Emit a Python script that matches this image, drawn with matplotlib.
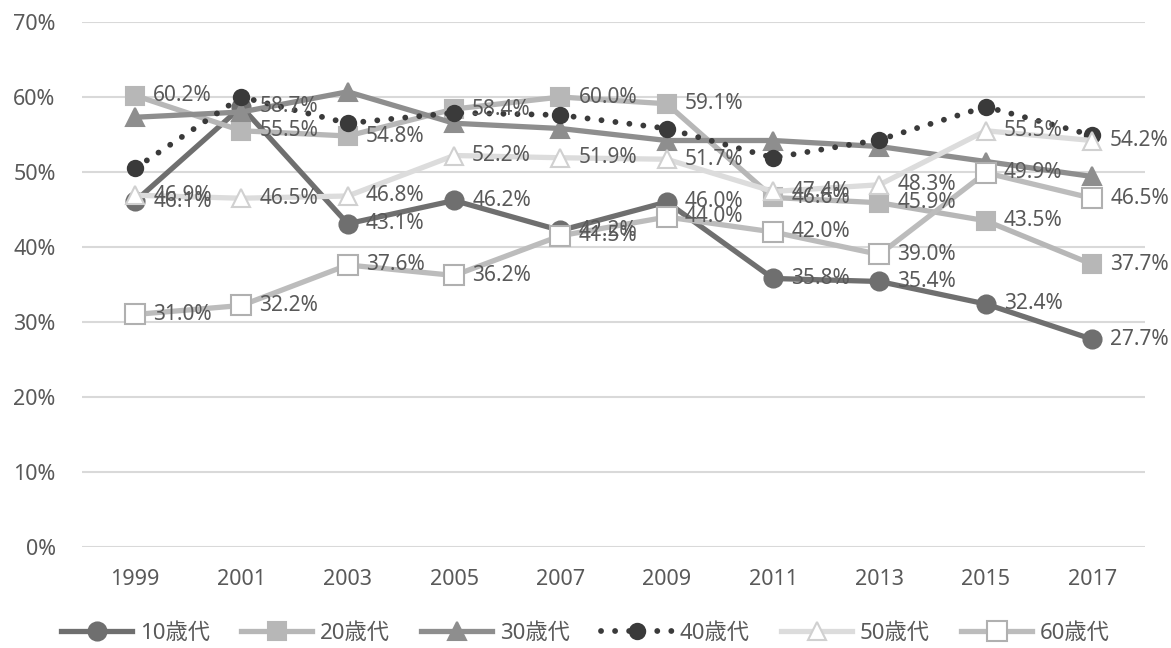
import matplotlib
matplotlib.use("Agg")
import matplotlib.pyplot as plt
from matplotlib.ticker import FuncFormatter

plt.rcParams['font.family'] = ['Noto Sans', 'Noto Sans CJK JP', 'DejaVu Sans']

years = ["1999", "2001", "2003", "2005", "2007", "2009", "2011", "2013", "2015", "2017"]
s10 = [46.1, 58.7, 43.1, 46.2, 42.2, 46.0, 35.8, 35.4, 32.4, 27.7]
s20 = [60.2, 55.5, 54.8, 58.4, 60.0, 59.1, 46.6, 45.9, 43.5, 37.7]
s30 = [57.3, 58.0, 60.7, 56.5, 55.8, 54.2, 54.2, 53.4, 51.4, 49.4]
s40 = [50.5, 60.0, 56.5, 57.9, 57.6, 55.8, 51.9, 54.3, 58.7, 54.9]
s50 = [46.9, 46.5, 46.8, 52.2, 51.9, 51.7, 47.4, 48.3, 55.5, 54.2]
s60 = [31.0, 32.2, 37.6, 36.2, 41.5, 44.0, 42.0, 39.0, 49.9, 46.5]
names = ["10歳代", "20歳代", "30歳代", "40歳代", "50歳代", "60歳代"]

fig = plt.figure(figsize=(11.71, 6.48), dpi=100)
ax = fig.add_axes([0.07, 0.156, 0.908, 0.81])
x = list(range(len(years)))

styles = [
    dict(data=s10, color="#6f6f6f", ls="-", marker="o", mfc="#6f6f6f", mec="#6f6f6f", ms=13, lw=3.8, label=True),
    dict(data=s20, color="#b7b7b7", ls="-", marker="s", mfc="#b7b7b7", mec="#b7b7b7", ms=13, lw=3.8, label=True),
    dict(data=s30, color="#8e8e8e", ls="-", marker="^", mfc="#8e8e8e", mec="#8e8e8e", ms=13, lw=3.8, label=False),
    dict(data=s40, color="#3a3a3a", ls=(0, (0.01, 2.4)), marker="o", mfc="#3a3a3a", mec="#3a3a3a", ms=11, lw=4.2, label=False),
    dict(data=s50, color="#dcdcdc", ls="-", marker="^", mfc="white", mec="#d0d0d0", ms=13, lw=3.8, label=True),
    dict(data=s60, color="#bcbcbc", ls="-", marker="s", mfc="white", mec="#b0b0b0", ms=14, lw=3.8, label=True),
]

order = [4, 5, 1, 2, 0, 3]
handles = [None] * 6
for i in order:
    st = styles[i]
    h, = ax.plot(x, st["data"], color=st["color"], ls=st["ls"], lw=st["lw"],
                 marker=st["marker"], markerfacecolor=st["mfc"], markeredgecolor=st["mec"],
                 markeredgewidth=1.5, markersize=st["ms"], label=names[i],
                 dash_capstyle="round", zorder=3 + i)
    handles[i] = h
    if st["label"]:
        for xi, v in zip(x, st["data"]):
            ax.annotate(f"{v:.1f}%", (xi, v), xytext=(13, 0), textcoords="offset points",
                        ha="left", va="center", fontsize=15, color="#595959", zorder=20)

ax.set_xlim(-0.5, len(years) - 0.5)
ax.set_ylim(0, 70)
ax.set_yticks(range(0, 71, 10))
ax.yaxis.set_major_formatter(FuncFormatter(lambda v, p: f"{int(v)}%"))
ax.set_xticks(x)
ax.set_xticklabels(years)
ax.grid(axis="y", color="#d9d9d9", lw=1.5)
ax.set_axisbelow(True)
for sp in ax.spines.values():
    sp.set_visible(False)
ax.tick_params(length=0, labelsize=15.5, labelcolor="#595959")
ax.tick_params(axis="x", pad=16)
ax.tick_params(axis="y", pad=19)

fig.legend(handles=handles, labels=names, loc="center", bbox_to_anchor=(0.5, 0.022),
           ncol=6, frameon=False, fontsize=16, handlelength=3.2, columnspacing=1.4,
           handletextpad=0.35, labelcolor="#595959")

fig.savefig("out.png", dpi=100)
